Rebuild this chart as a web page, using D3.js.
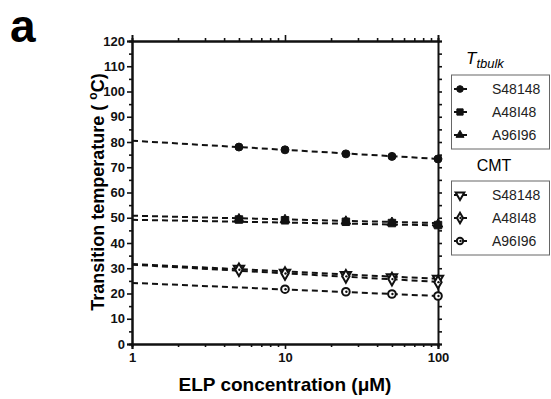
<!DOCTYPE html>
<html>
<head>
<meta charset="utf-8">
<script src="https://cdn.jsdelivr.net/npm/d3@7"></script>
<style>
  body { margin: 0; background: #fff; }
  text { font-family: "Liberation Sans", Arial, sans-serif; }
</style>
</head>
<body>
<div id="chart"></div>
<script>
var W = 551, H = 399;

// measured points, concentration (uM) vs transition temperature (C)
var conc = [5, 10, 25, 50, 100];
var concA96cmt = [10, 25, 50, 100];

var tt_S48 = [78.0, 76.9, 75.3, 74.3, 73.3];
var tt_A48 = [49.3, 49.0, 48.4, 47.9, 47.1];
var tt_A96 = [49.5, 49.2, 48.6, 48.1, 47.4];
var cmt_S48 = [29.8, 28.2, 27.3, 26.4, 25.9];
var cmt_A48 = [29.4, 27.9, 26.8, 25.7, 24.5];
var cmt_A96 = [21.7, 20.7, 19.8, 19.0];

// fitted lines, value at 1 uM and at 100 uM
var fitEnds = [1, 100];
var fit_tt_S48 = [80.5, 73.3];
var fit_tt_A48 = [49.2, 47.0];
var fit_tt_A96 = [50.8, 47.9];
var fit_cmt_S48 = [31.7, 25.8];
var fit_cmt_A48 = [31.4, 24.6];
var fit_cmt_A96 = [24.2, 19.0];

var yTicks = [0, 10, 20, 30, 40, 50, 60, 70, 80, 90, 100, 110, 120];
var xTicks = [1, 10, 100];
var names = ["S48148", "A48I48", "A96I96"];

var series = [
  {x: conc, y: tt_S48, fit: fit_tt_S48, shape: "circle", fill: true},
  {x: conc, y: tt_A48, fit: fit_tt_A48, shape: "square", fill: true},
  {x: conc, y: tt_A96, fit: fit_tt_A96, shape: "triangle", fill: true},
  {x: conc, y: cmt_S48, fit: fit_cmt_S48, shape: "invtri", fill: false},
  {x: conc, y: cmt_A48, fit: fit_cmt_A48, shape: "diamond", fill: false},
  {x: concA96cmt, y: cmt_A96, fit: fit_cmt_A96, shape: "circle", fill: false}
];

var svg = d3.select("#chart").append("svg")
  .attr("width", W).attr("height", H);

var x = d3.scaleLog().domain([1, 100]).range([132, 438]);
var y = d3.scaleLinear().domain([0, 120]).range([344, 41]);

function symPath(shape, s) {
  var t = {circle: d3.symbolCircle, square: d3.symbolSquare, triangle: d3.symbolTriangle,
           invtri: d3.symbolTriangle, diamond: d3.symbolDiamond}[shape];
  return d3.symbol().type(t).size(s)();
}

function drawMarker(g, shape, fill, cx, cy, small) {
  var size = fill ? (shape == "square" ? 56 : (shape == "triangle" ? 40 : 50)) : 46;
  if (small) size = size * 0.7;
  g.append("path")
    .attr("d", symPath(shape, size))
    .attr("transform", "translate(" + cx + "," + cy + ")" + (shape == "invtri" ? " rotate(180)" : ""))
    .attr("fill", fill ? "#111" : "#fff")
    .attr("stroke", "#111")
    .attr("stroke-width", fill ? 1 : 2);
  if (!fill && shape != "invtri") {
    g.append("circle").attr("cx", cx + 0.5).attr("cy", cy).attr("r", 1.2).attr("fill", "#111");
  }
}

// axes
var minorX = [];
[1, 10].forEach(function(d) { for (var k = 2; k <= 9; k++) minorX.push(d * k); });
var minorY = d3.range(5, 120, 10);

svg.append("g").attr("transform", "translate(132,0)")
  .call(d3.axisLeft(y).tickValues(yTicks).tickSize(5).tickPadding(2).tickFormat(d3.format("d")));
svg.append("g").attr("transform", "translate(132,0)")
  .call(d3.axisLeft(y).tickValues(minorY).tickSize(3).tickFormat(""));

svg.append("g").attr("transform", "translate(438,0)")
  .call(d3.axisRight(y).tickValues(d3.range(0, 121, 5)).tickSize(4).tickFormat(""));

svg.append("g").attr("transform", "translate(0,344)")
  .call(d3.axisBottom(x).tickValues(xTicks).tickSize(5).tickPadding(4).tickFormat(d3.format("d")));
svg.append("g").attr("transform", "translate(0,344)")
  .call(d3.axisBottom(x).tickValues(minorX).tickSize(3).tickFormat(""));

svg.append("g").attr("transform", "translate(0,41)")
  .call(d3.axisTop(x).tickValues(minorX).tickSize(3).tickFormat(""));
svg.append("g").attr("transform", "translate(0,41)")
  .call(d3.axisTop(x).tickValues([10]).tickSize(6).tickFormat(""));

svg.selectAll(".domain").attr("stroke", "#111").attr("stroke-width", 2);
svg.selectAll(".tick line").attr("stroke", "#111").attr("stroke-width", 1.6);
svg.selectAll(".tick text")
  .attr("font-size", 13).attr("font-weight", "bold").attr("fill", "#111");

// fitted dashed lines
var line = d3.line().x(function(d) { return x(d[0]); }).y(function(d) { return y(d[1]); });
var plot = svg.append("g");
series.forEach(function(s) {
  plot.append("path")
    .attr("d", line(fitEnds.map(function(c, i) { return [c, s.fit[i]]; })))
    .attr("fill", "none")
    .attr("stroke", "#111")
    .attr("stroke-width", 2)
    .attr("stroke-dasharray", "6,4");
});
// triangles first so the squares sit on top, as in the original
[2, 0, 1, 3, 4, 5].forEach(function(k) {
  var s = series[k];
  s.x.forEach(function(c, i) {
    drawMarker(plot, s.shape, s.fill, x(c), y(s.y[i]));
  });
});

// panel letter
svg.append("text").attr("x", 10).attr("y", 42)
  .attr("font-size", 46).attr("font-weight", "bold").text("a");

// axis titles
svg.append("text")
  .attr("x", 285).attr("y", 391)
  .attr("text-anchor", "middle")
  .attr("font-size", 19).attr("font-weight", "bold")
  .text("ELP concentration (\u03bcM)");

var yt = svg.append("text")
  .attr("transform", "translate(104,192) rotate(-90)")
  .attr("text-anchor", "middle")
  .attr("font-size", 18).attr("font-weight", "bold");
yt.append("tspan").text("Transition temperature ( ");
yt.append("tspan").attr("font-size", 12).attr("dy", -7).text("o");
yt.append("tspan").attr("dy", 7).text("C)");

// legends
var lt = svg.append("text").attr("x", 466).attr("y", 64)
  .attr("font-style", "italic").attr("font-size", 17);
lt.append("tspan").text("T");
lt.append("tspan").attr("font-size", 13).attr("dy", 4).text("tbulk");

svg.append("text").attr("x", 494).attr("y", 171)
  .attr("text-anchor", "middle").attr("font-size", 16).text("CMT");

function legendBox(y0, items) {
  svg.append("rect").attr("x", 451.5).attr("y", y0).attr("width", 98).attr("height", 74)
    .attr("fill", "#fff").attr("stroke", "#666").attr("stroke-width", 1);
  var lg = svg.append("g");
  items.forEach(function(s, i) {
    var cy = y0 + 14 + i * 23;
    lg.append("line").attr("x1", 454).attr("x2", 469).attr("y1", cy).attr("y2", cy)
      .attr("stroke", "#111").attr("stroke-width", 2).attr("stroke-dasharray", "5,3");
    drawMarker(lg, s.shape, s.fill, 460, cy, true);
    lg.append("text").attr("x", 492).attr("y", cy + 5)
      .attr("font-size", 14).attr("fill", "#222").text(names[i]);
  });
}
legendBox(75, series.slice(0, 3));
legendBox(181, series.slice(3, 6));
</script>
</body>
</html>
